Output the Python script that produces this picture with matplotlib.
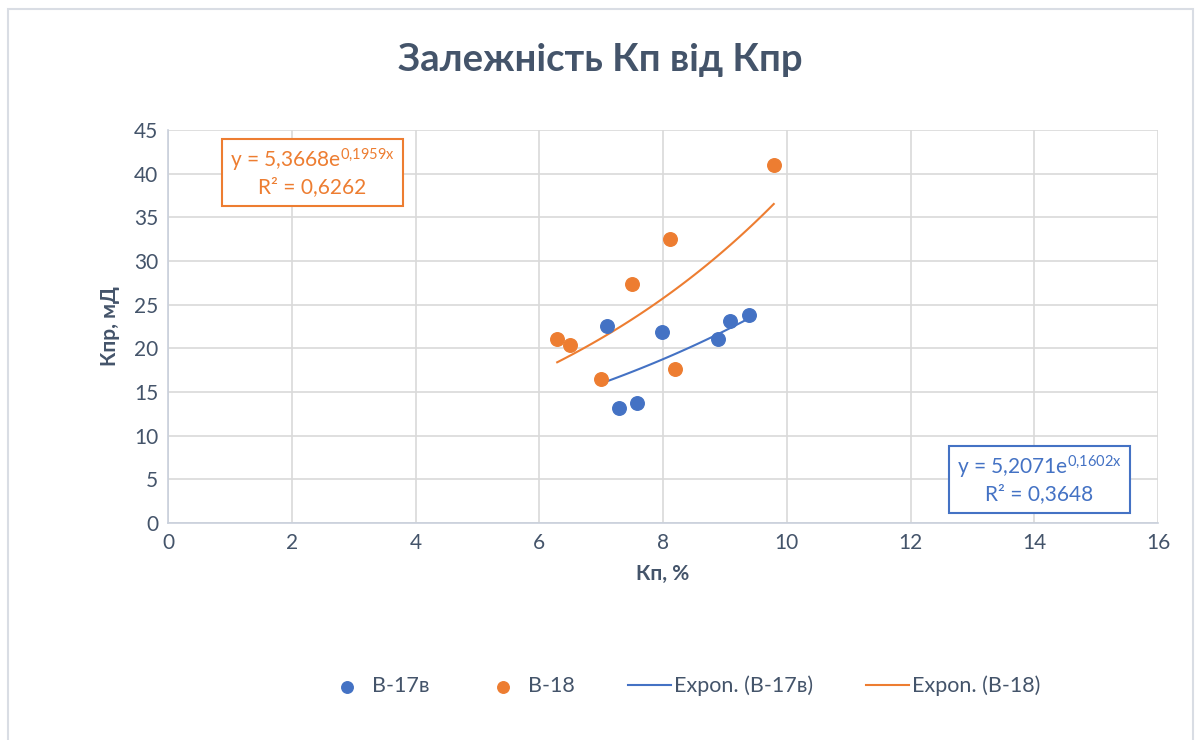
import matplotlib
matplotlib.use("Agg")
import matplotlib.pyplot as plt
import numpy as np
from matplotlib.patches import Rectangle

plt.rcParams["font.family"] = ["Lato", "DejaVu Sans"]
plt.rcParams["mathtext.fontset"] = "custom"
plt.rcParams["mathtext.rm"] = "Lato"
plt.rcParams["mathtext.it"] = "Lato"

# data
kp_b17 = [7.09, 7.29, 7.58, 7.98, 8.89, 9.08, 9.39]
kpr_b17 = [22.6, 13.2, 13.7, 21.9, 21.1, 23.1, 23.8]
kp_b18 = [6.29, 6.50, 7.00, 7.50, 8.11, 8.19, 9.79]
kpr_b18 = [21.1, 20.4, 16.5, 27.4, 32.5, 17.6, 41.0]

# trendline coefficients shown on the chart
a17, b17, r17 = 5.2071, 0.1602, "0,3648"
a18, b18, r18 = 5.3668, 0.1959, "0,6262"

blue = "#4472C4"
orange = "#ED7D31"
txt = "#44546A"
grid = "#D9D9D9"

W, H = 1197, 740
fig = plt.figure(figsize=(W / 100, H / 100), dpi=100)

# chart border
fig.patches.append(Rectangle((8 / W, -0.02), 1185 / W, 1 - 9 / H + 0.02,
                             transform=fig.transFigure, fill=False,
                             edgecolor="#D9DDE4", lw=1.5))

ax = fig.add_axes([168 / W, 1 - 523 / H, 990 / W, 393 / H])
ax.set_xlim(0, 16)
ax.set_ylim(0, 45)
ax.set_xticks(range(0, 17, 2))
ax.set_yticks(range(0, 46, 5))
ax.grid(True, color=grid, lw=1.2)
ax.set_axisbelow(True)
for s in ["top", "right"]:
    ax.spines[s].set_visible(False)
for s in ["left", "bottom"]:
    ax.spines[s].set_color("#C9D0DC")
    ax.spines[s].set_linewidth(1.2)
ax.tick_params(length=0, labelsize=15, labelcolor=txt, pad=7)

ax.scatter(kp_b17, kpr_b17, s=95, color=blue, zorder=3, label="В-17в")
ax.scatter(kp_b18, kpr_b18, s=95, color=orange, zorder=3, label="В-18")

x17 = np.linspace(min(kp_b17), max(kp_b17), 50)
x18 = np.linspace(min(kp_b18), max(kp_b18), 50)
ax.plot(x17, a17 * np.exp(b17 * x17), color=blue, lw=1.5, label="Expon. (В-17в)")
ax.plot(x18, a18 * np.exp(b18 * x18), color=orange, lw=1.5, label="Expon. (В-18)")

ax.set_xlabel("Кп, %", fontsize=15, fontweight="bold", color=txt, labelpad=8)
ax.set_ylabel("Кпр, мД", fontsize=15, fontweight="bold", color=txt, labelpad=10)

fig.text(600 / W, 1 - 60 / H, "Залежність Кп від Кпр", fontsize=27.5,
         fontweight="bold", color=txt, ha="center", va="center")


def eq_box(x0, y0, w, h, a, b, r2, col):
    fig.patches.append(Rectangle((x0 / W, 1 - (y0 + h) / H), w / W, h / H,
                                 transform=fig.transFigure, fill=True,
                                 facecolor="white", edgecolor=col, lw=1.5, zorder=5))
    cx = (x0 + w / 2) / W
    s1 = ("y = " + f"{a:.4f}".replace(".", ",") + "e$^{"
          + f"{b:.4f}".replace(".", "{,}") + "x}$")
    fig.text(cx, 1 - (y0 + 21) / H, s1, fontsize=15, color=col,
             ha="center", va="center", zorder=6)
    fig.text(cx, 1 - (y0 + 48) / H, "R² = " + r2, fontsize=15, color=col,
             ha="center", va="center", zorder=6)


eq_box(222, 139, 181, 67, a18, b18, r18, orange)
eq_box(949, 446, 181, 67, a17, b17, r17, blue)

fig.legend(loc="center", bbox_to_anchor=(683 / W, 1 - 686 / H), ncol=4,
           frameon=False, fontsize=15.5, labelcolor=txt, columnspacing=2.45,
           handlelength=2.0, handletextpad=0.15, markerscale=0.85)

fig.savefig("out.png", dpi=100)
